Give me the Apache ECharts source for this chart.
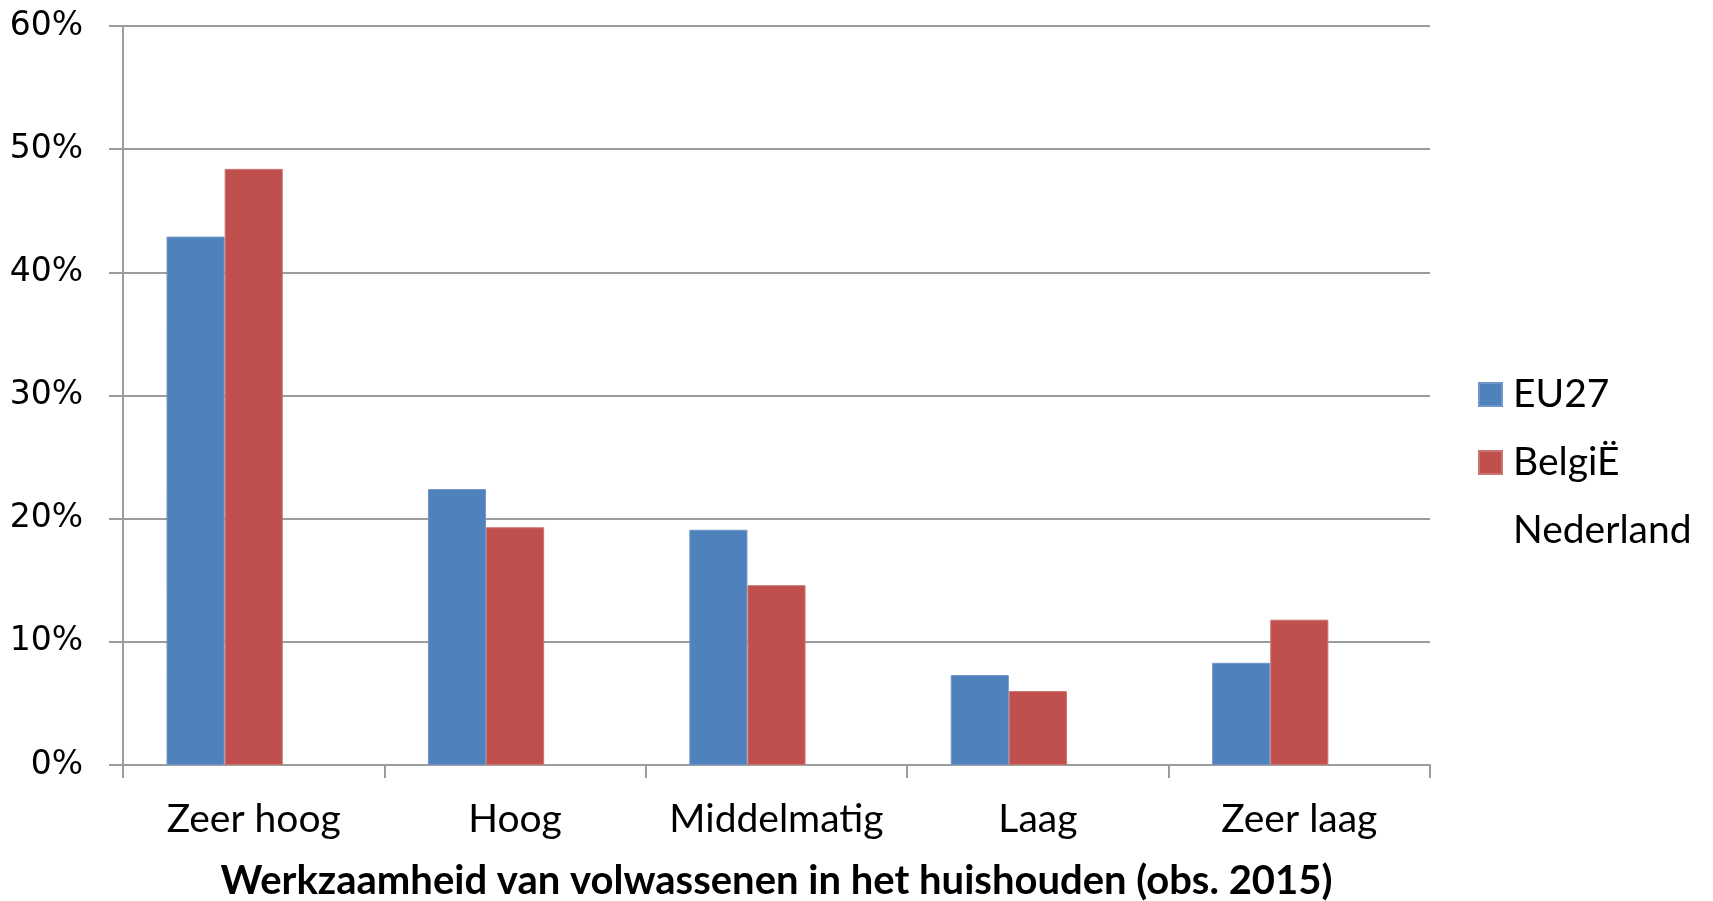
<!DOCTYPE html>
<html>
<head>
<meta charset="utf-8">
<script src="https://cdn.jsdelivr.net/npm/echarts@6/dist/echarts.min.js"></script>
<style>
    html, body { margin: 0; padding: 0; background: #fff; }
    #chart { width: 1713px; height: 901px; }
</style>
</head>
<body>
<div id="chart"></div>
<script>
    var categories = ['Zeer hoog', 'Hoog', 'Middelmatig', 'Laag', 'Zeer laag'];
    var eu27 = [42.9, 22.4, 19.1, 7.3, 8.3];
    var belgie = [48.4, 19.3, 14.6, 6.0, 11.8];
    // Nederland has no values in the source, only a legend entry
    var nederland = [null, null, null, null, null];
    var yTicks = [0, 10, 20, 30, 40, 50, 60];

    var labelFont = 'Lato, "Open Sans", sans-serif';
    var gridColor = '#9c9c9c';

    var chart = echarts.init(document.getElementById('chart'));

    var option = {
        animation: false,
        grid: {
            left: 123,
            right: 283,
            top: 26,
            bottom: 136,
            outerBoundsMode: 'none'
        },
        legend: {
            orient: 'vertical',
            left: 1478,
            top: 375,
            padding: 0,
            itemWidth: 23,
            itemHeight: 23,
            itemGap: 29,
            icon: 'rect',
            textStyle: {
                fontFamily: labelFont,
                fontSize: 39,
                color: '#000',
                padding: [0, 0, 0, 6]
            },
            data: ['EU27', 'BelgiË', 'Nederland']
        },
        xAxis: [{
            type: 'category',
            data: categories,
            axisLine: { lineStyle: { color: gridColor, width: 2 } },
            axisTick: { show: true, interval: 0, length: 13, lineStyle: { color: gridColor, width: 2 } },
            axisLabel: {
                interval: 0,
                margin: 35,
                fontFamily: labelFont,
                fontSize: 39,
                color: '#000'
            },
            name: 'Werkzaamheid van volwassenen in het huishouden (obs. 2015)',
            nameLocation: 'middle',
            nameGap: 96,
            nameTextStyle: {
                fontFamily: labelFont,
                fontWeight: 'bold',
                fontSize: 40,
                color: '#000'
            }
        }],
        yAxis: [{
            type: 'value',
            min: yTicks[0],
            max: yTicks[yTicks.length - 1],
            interval: 10,
            axisLine: { show: true, lineStyle: { color: gridColor, width: 2 } },
            axisTick: { show: true, length: 14, lineStyle: { color: gridColor, width: 2 } },
            splitLine: { lineStyle: { color: gridColor, width: 2 } },
            axisLabel: {
                margin: 40,
                formatter: '{value}%',
                fontFamily: '"DejaVu Sans", sans-serif',
                fontSize: 33,
                color: '#000',
                padding: [3, 0, 0, 0]
            }
        }],
        series: [{
            name: 'EU27',
            type: 'bar',
            data: eu27,
            barGap: '0%',
            barCategoryGap: '33.3%',
            itemStyle: { color: '#4F81BD', borderColor: '#7097c9', borderWidth: 1 }
        }, {
            name: 'BelgiË',
            type: 'bar',
            data: belgie,
            barGap: '0%',
            barCategoryGap: '33.3%',
            itemStyle: { color: '#C0504D', borderColor: '#cc7472', borderWidth: 1 }
        }, {
            name: 'Nederland',
            type: 'bar',
            data: nederland,
            barGap: '0%',
            barCategoryGap: '33.3%',
            itemStyle: { color: 'rgba(0,0,0,0)' }
        }]
    };

    chart.setOption(option);
</script>
</body>
</html>
